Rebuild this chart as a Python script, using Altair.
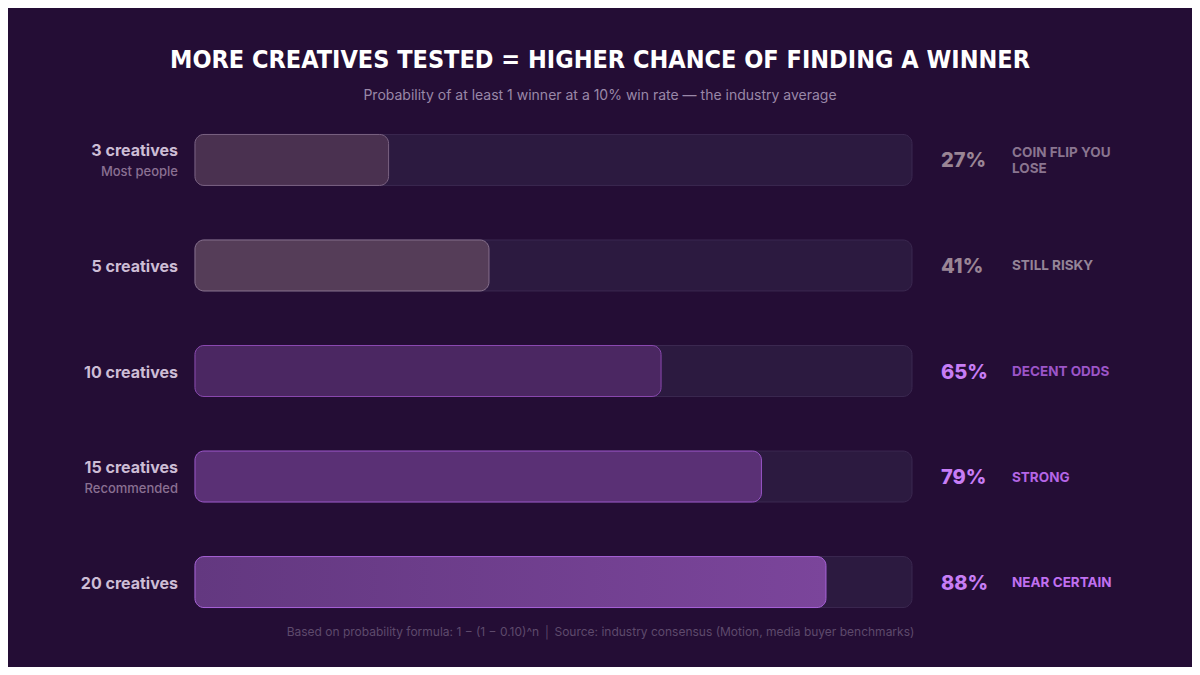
import altair as alt
import pandas as pd

creatives = ["3 creatives", "5 creatives", "10 creatives", "15 creatives", "20 creatives"]
notes = ["Most people", "", "", "Recommended", ""]
probs = [0.27, 0.41, 0.65, 0.79, 0.88]
pct_labels = ["27%", "41%", "65%", "79%", "88%"]
verdicts = ["COIN FLIP YOU\nLOSE", "STILL RISKY", "DECENT ODDS", "STRONG", "NEAR CERTAIN"]

fills = ["#4a3150", "#553d58", "#4b2762", "#5a3075", "#6e3e8e"]
strokes = ["#7a6282", "#86708c", "#8a48b0", "#9a55c8", "#a862d8"]
pct_colors = ["#9a8595", "#9a8595", "#c77df5", "#c77df5", "#c77df5"]
verdict_colors = ["#8a7590", "#958598", "#9c55c8", "#b565e5", "#c070f0"]

BG = "#240d35"
TITLE_FONT = "'DejaVu Sans Condensed', 'Liberation Sans Narrow', 'Arial Narrow', sans-serif"

df = pd.DataFrame({
    "creatives": creatives,
    "note": notes,
    "prob": probs,
    "pct": pct_labels,
    "verdict": verdicts,
})

xs = alt.Scale(domain=[-0.2608, 1.3905], nice=False, zero=False)
ys = alt.Scale(domain=creatives, paddingInner=0.517, paddingOuter=0.137)
Y = alt.Y("creatives:N", scale=ys, axis=None, sort=creatives)

base = alt.Chart(df)

track = base.mark_bar(color="#2c1a40", stroke="#3b2850", strokeWidth=1, cornerRadius=9).encode(
    x=alt.X("prob:Q", scale=xs, axis=alt.Axis(
        title="Based on probability formula: 1 − (1 − 0.10)^n  │  Source: industry consensus (Motion, media buyer benchmarks)",
        labels=False, ticks=False, domain=False, grid=False,
        titleFont="Inter", titleFontSize=12, titleFontWeight="normal", titleColor="#5e4a6c",
        titlePadding=4)),
    x2=alt.datum(1),
    y=Y,
).transform_calculate(prob="0")

bars = base.mark_bar(strokeWidth=1, cornerRadius=9).encode(
    x=alt.X("prob:Q", scale=xs),
    x2=alt.datum(0),
    y=Y,
    fill=alt.Fill("creatives:N", scale=alt.Scale(domain=creatives, range=fills), legend=None),
    stroke=alt.Stroke("creatives:N", scale=alt.Scale(domain=creatives, range=strokes), legend=None),
).transform_filter(alt.datum.creatives != "20 creatives")

grad = alt.LinearGradient(
    gradient="linear",
    stops=[alt.GradientStop(color="#633880", offset=0), alt.GradientStop(color="#7b459b", offset=1)],
    x1=0, x2=1, y1=0, y2=0,
)
bar20 = base.mark_bar(color=grad, stroke="#a862d8", strokeWidth=1, cornerRadius=9).encode(
    x=alt.X("prob:Q", scale=xs),
    x2=alt.datum(0),
    y=Y,
).transform_filter(alt.datum.creatives == "20 creatives")

label_main_note = base.mark_text(align="right", baseline="middle", dx=-17, dy=-9,
                                 font="Inter", fontSize=16, fontWeight="bold", color="#cdbdd5").encode(
    x=alt.datum(0), y=Y, text="creatives:N"
).transform_filter(alt.datum.note != "")

label_main = base.mark_text(align="right", baseline="middle", dx=-17, dy=1.5,
                            font="Inter", fontSize=16, fontWeight="bold", color="#cdbdd5").encode(
    x=alt.datum(0), y=Y, text="creatives:N"
).transform_filter(alt.datum.note == "")

label_note = base.mark_text(align="right", baseline="middle", dx=-17, dy=12,
                            font="Inter", fontSize=13, fontWeight=500, color="#8a7092").encode(
    x=alt.datum(0), y=Y, text="note:N"
).transform_filter(alt.datum.note != "")

pct = base.mark_text(align="left", baseline="middle", dx=29, dy=1.5,
                     font="Inter", fontSize=20, fontWeight=800).encode(
    x=alt.datum(1), y=Y, text="pct:N",
    color=alt.Color("creatives:N", scale=alt.Scale(domain=creatives, range=pct_colors), legend=None),
)

verdict_one = base.mark_text(align="left", baseline="middle", dx=100, dy=1,
                             font="Inter", fontSize=13.5, fontWeight="bold").encode(
    x=alt.datum(1), y=Y, text="verdict:N",
    color=alt.Color("creatives:N", scale=alt.Scale(domain=creatives, range=verdict_colors), legend=None),
).transform_filter("indexof(datum.verdict, '\\n') < 0")

verdict_two = base.mark_text(align="left", baseline="middle", dx=100, dy=-7, lineBreak="\n", lineHeight=16,
                             font="Inter", fontSize=13.5, fontWeight="bold").encode(
    x=alt.datum(1), y=Y, text="verdict:N",
    color=alt.Color("creatives:N", scale=alt.Scale(domain=creatives, range=verdict_colors), legend=None),
).transform_filter("indexof(datum.verdict, '\\n') >= 0")

chart = alt.layer(
    track, bars, bar20, label_main_note, label_main, label_note, pct, verdict_one, verdict_two
).resolve_scale(color="independent").properties(
    width=1184,
    height=502,
    autosize=alt.AutoSizeParams(type="none"),
    padding={"left": 0, "right": 0, "top": 112, "bottom": 45},
    background=BG,
    title=alt.TitleParams(
        text="MORE CREATIVES TESTED = HIGHER CHANCE OF FINDING A WINNER",
        subtitle="Probability of at least 1 winner at a 10% win rate — the industry average",
        anchor="middle",
        font=TITLE_FONT,
        fontSize=25,
        fontWeight="bold",
        color="#ffffff",
        subtitleFont="Inter",
        subtitleFontSize=14,
        subtitleColor="#9a88a8",
        subtitlePadding=16,
        offset=17,
    ),
).configure_view(stroke=None)

chart.save("out.html", embed_options={"renderer": "svg", "actions": False})
